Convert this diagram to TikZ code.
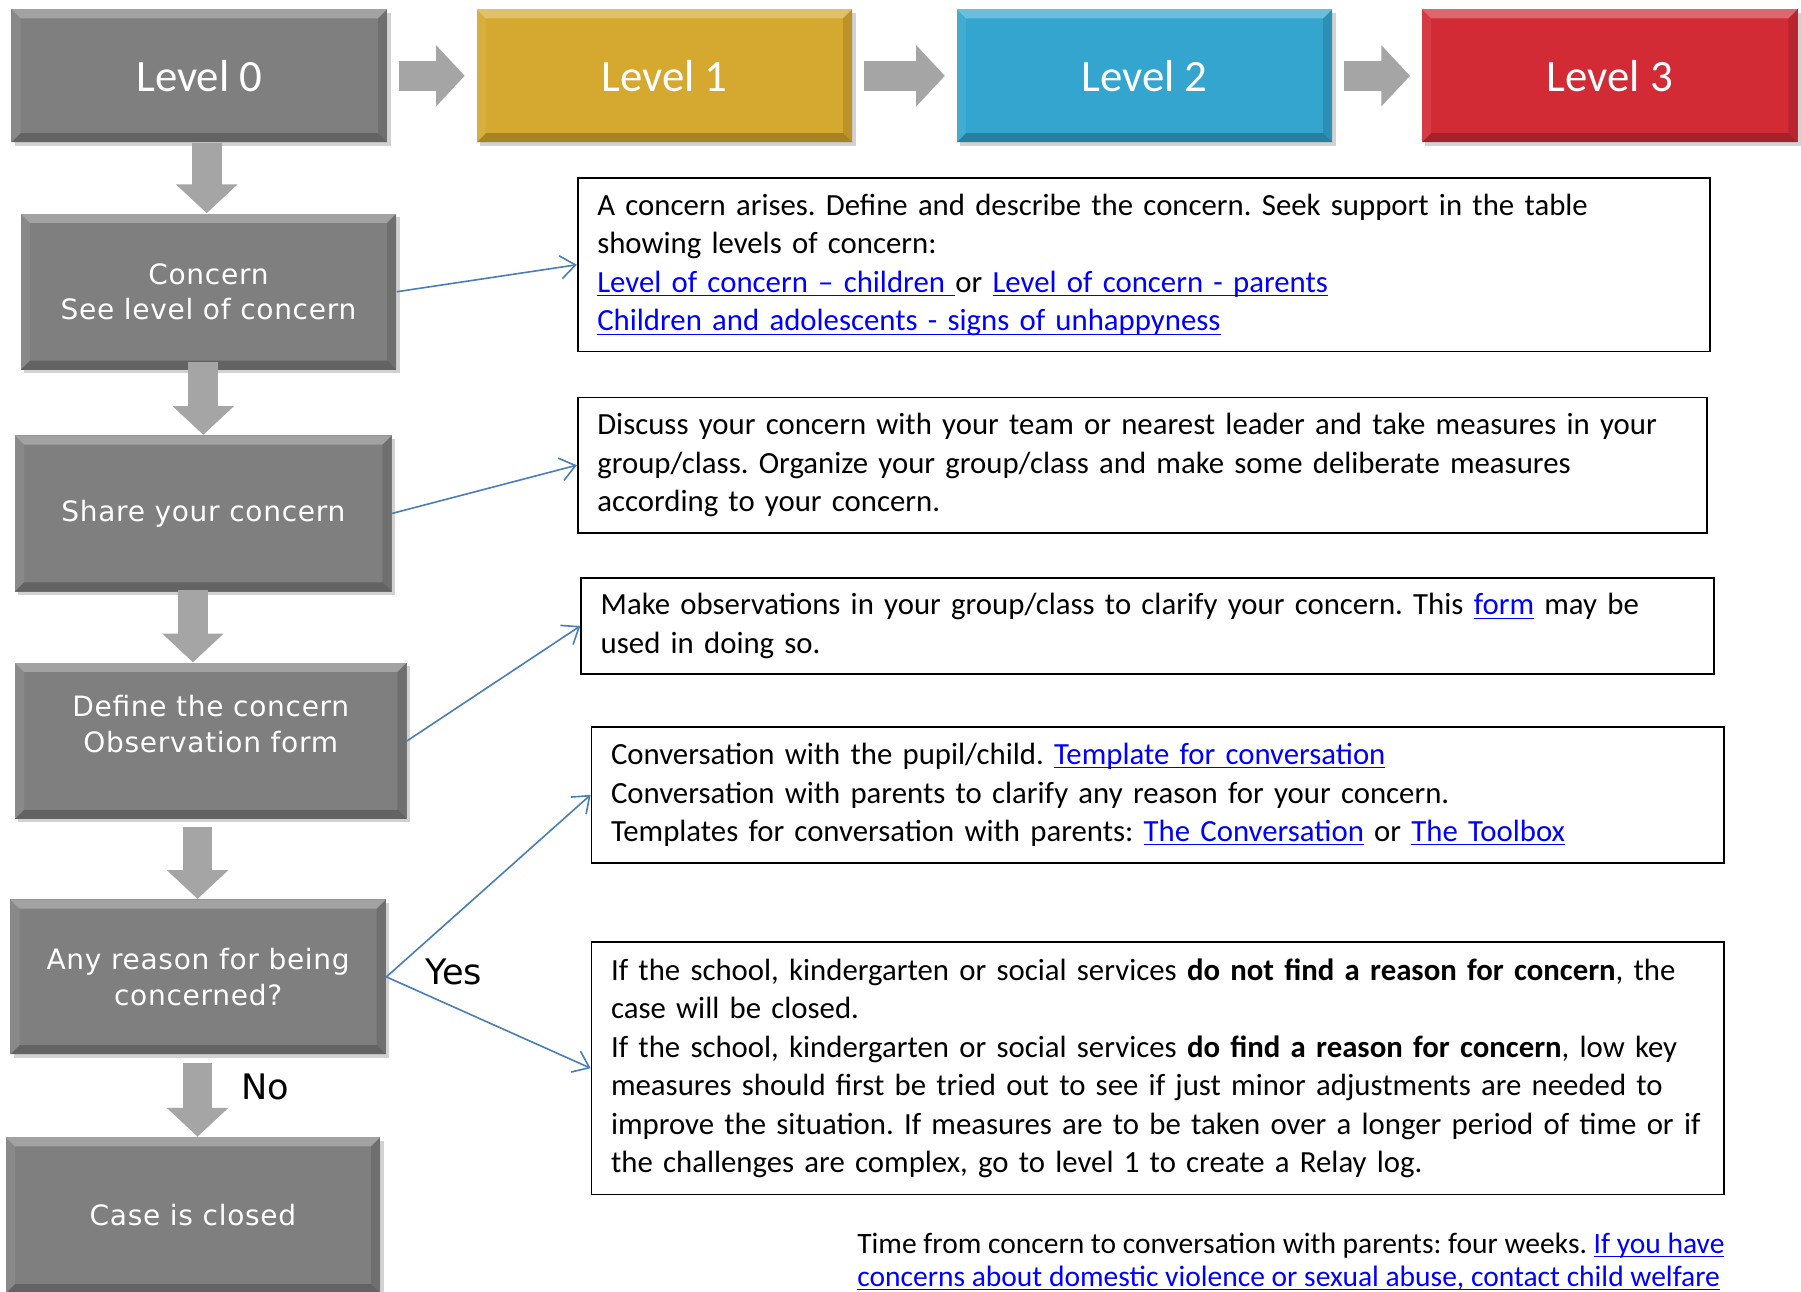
\documentclass[tikz,border=0pt]{standalone}
\usepackage{fontspec}
\setmainfont{Carlito}
\newfontfamily\boxfont[LetterSpace=2.5]{DejaVu Sans}
\newfontfamily\lblfont{DejaVu Sans}
\usetikzlibrary{arrows.meta,shadows,calc}
\definecolor{boxgray}{HTML}{7F7F7F}
\definecolor{arrgray}{HTML}{A5A5A5}
\definecolor{lvlone}{HTML}{D5A82F}
\definecolor{lvltwo}{HTML}{33A5CE}
\definecolor{lvlthree}{HTML}{D22B35}
\definecolor{connblue}{HTML}{4A7EBB}
\definecolor{linkblue}{HTML}{0000FF}
\newcommand\lnk[1]{{\color{linkblue}\underline{\smash{#1}}}}
\frenchspacing
\tikzset{
  bevel/.style={path picture={
    \fill[white,opacity=.28] (path picture bounding box.north west) -- (path picture bounding box.north east)
      -- ([xshift=-4pt,yshift=-4pt]path picture bounding box.north east) -- ([xshift=4pt,yshift=-4pt]path picture bounding box.north west) -- cycle;
    \fill[black,opacity=.22] (path picture bounding box.south west) -- (path picture bounding box.south east)
      -- ([xshift=-4pt,yshift=4pt]path picture bounding box.south east) -- ([xshift=4pt,yshift=4pt]path picture bounding box.south west) -- cycle;
    \fill[black,opacity=.12] (path picture bounding box.north east) -- (path picture bounding box.south east)
      -- ([xshift=-4pt,yshift=4pt]path picture bounding box.south east) -- ([xshift=-4pt,yshift=-4pt]path picture bounding box.north east) -- cycle;
    \fill[white,opacity=.08] (path picture bounding box.north west) -- (path picture bounding box.south west)
      -- ([xshift=4pt,yshift=4pt]path picture bounding box.south west) -- ([xshift=4pt,yshift=-4pt]path picture bounding box.north west) -- cycle;
  }},
  lvlbox/.style={bevel, minimum width=163.5pt, minimum height=58pt, inner sep=0pt, text=white,
    font=\fontsize{19.5}{24}\selectfont, drop shadow={shadow xshift=1.5pt, shadow yshift=-1.5pt, opacity=.35}},
  graybox/.style={bevel, fill=boxgray, minimum width=163.5pt, minimum height=68pt, inner sep=0pt, text=white,
    align=center, font=\boxfont\fontsize{12.2}{15.5}\selectfont,
    drop shadow={shadow xshift=1.5pt, shadow yshift=-1.5pt, opacity=.35}},
  txtbox/.style={draw=black, line width=0.8pt, fill=white, inner xsep=8.5pt, inner ysep=0pt, align=left,
    font=\fontsize{13.4}{16.75}\selectfont},
  blockarr/.style={draw=arrgray, line width=13pt, -{Triangle[length=12.5pt,width=26pt]}, arrgray},
  conn/.style={draw=connblue, line width=0.7pt, -{Straight Barb[length=6.5pt,width=10pt]}},
  lbl/.style={font=\lblfont\fontsize{15.3}{18}\selectfont, inner sep=0pt},
}
\begin{document}
\begin{tikzpicture}[x=0.5pt,y=-0.5pt]
\useasboundingbox (0,0) rectangle (1568,1124);
\fill[white] (0,0) rectangle (1568,1124);

% level boxes
\node[lvlbox, fill=boxgray] (level0) at (173.5,66) {Level 0};
\node[lvlbox, fill=lvlone] (level1) at (578.5,66) {Level 1};
\node[lvlbox, fill=lvltwo] (level2) at (996.5,66) {Level 2};
\node[lvlbox, fill=lvlthree] (level3) at (1401.5,66) {Level 3};

\draw[blockarr] ($(level0.east)+(10,0)$) -- ($(level1.west)+(-10,0)$);
\draw[blockarr] ($(level1.east)+(10,0)$) -- ($(level2.west)+(-10,0)$);
\draw[blockarr] ($(level2.east)+(10,0)$) -- ($(level3.west)+(-10,0)$);

% left column
\node[graybox] (concern) at (181.5,254) {Concern\\See level of concern};
\node[graybox, minimum width=164pt] (share) at (177,447) {Share your concern};
\node[graybox, minimum width=170.5pt] (define) at (183.5,645) {};
\node[font=\boxfont\fontsize{12.2}{15.5}\selectfont, text=white, align=center, inner sep=0pt] (defineT) at (183.5,630.5) {Define the concern\\Observation form};
\node[graybox, minimum height=67.5pt] (any) at (172.5,850.5) {Any reason for being\\concerned?};
\node[graybox, minimum width=163pt] (case) at (168,1058) {Case is closed};

\draw[blockarr] ($(level0.south)+(6.5,0)$) -- ($(concern.north)+(-1.5,0)$);
\draw[blockarr] ($(concern.south)+(-4.5,-7)$) -- ($(share.north)+(0,0)$);
\draw[blockarr] ($(share.south)+(-9,-2)$) -- ($(define.north)+(-15.5,0)$);
\draw[blockarr] ($(define.south)+(-11.5,7)$) -- ($(any.north)+(-0.5,0)$);
\draw[blockarr] ($(any.south)+(-0.5,7)$) -- ($(case.north)+(4,0)$);

\node[lbl] (no) at (231,946) {No};
\node[lbl] (yes) at (395,846) {Yes};

% text boxes
\node[txtbox, minimum height=75.5pt, text width=476pt] (t1) at (996,230.5)
  {A concern arises. Define and describe the concern. Seek support in the table\\
   showing levels of concern:\\
   \lnk{Level of concern – children }or \lnk{Level of concern - parents}\\
   \lnk{Children and adolescents - signs of unhappyness}};
\node[txtbox, minimum height=59pt, text width=474.5pt] (t2) at (994.5,405)
  {Discuss your concern with your team or nearest leader and take measures in your\\
   group/class. Organize your group/class and make some deliberate measures\\
   according to your concern.};
\node[txtbox, minimum height=42pt, text width=476pt] (t3) at (999,545)
  {Make observations in your group/class to clarify your concern. This \lnk{form} may be\\
   used in doing so.};
\node[txtbox, minimum height=59pt, text width=476pt] (t4) at (1008,692)
  {Conversation with the pupil/child. \lnk{Template for conversation}\\
   Conversation with parents to clarify any reason for your concern.\\
   Templates for conversation with parents: \lnk{The Conversation} or \lnk{The Toolbox}};
\node[txtbox, minimum height=110pt, text width=476pt] (t5) at (1008,930)
  {If the school, kindergarten or social services \textbf{do not find a reason for concern}, the\\
   case will be closed.\\
   If the school, kindergarten or social services \textbf{do find a reason for concern}, low key\\
   measures should first be tried out to see if just minor adjustments are needed to\\
   improve the situation. If measures are to be taken over a longer period of time or if\\
   the challenges are complex, go to level 1 to create a Relay log.};

\node[anchor=north west, inner sep=0pt, align=left, font=\fontsize{12.85}{14.5}\selectfont] (foot) at (746,1073)
  {Time from concern to conversation with parents: four weeks. \lnk{If you have}\\
   \lnk{concerns about domestic violence or sexual abuse, contact child welfare}};

% connectors
\draw[conn] (concern.east) -- (t1.west);
\draw[conn] (share.east) -- (t2.west);
\draw[conn] (define.east) -- (t3.west);
\draw[conn] (any.east) -- (t4.west);
\draw[conn] (any.east) -- (t5.west);
\end{tikzpicture}
\end{document}
